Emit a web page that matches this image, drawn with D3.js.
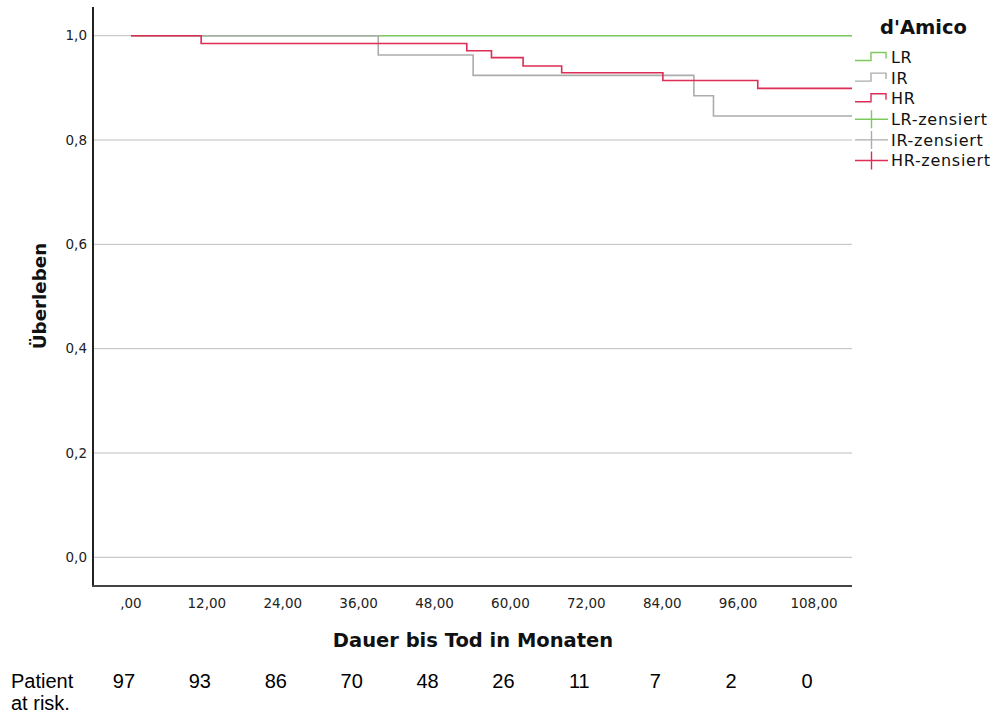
<!DOCTYPE html>
<html>
<head>
<meta charset="utf-8">
<script src="https://cdn.jsdelivr.net/npm/d3@7"></script>
<style>
  body { margin: 0; background: #fff; }
</style>
</head>
<body>
<div class="chart"></div>
<script>
// Kaplan-Meier steps: [month, survival]
const lrSteps = [[0, 1.0], [114, 1.0]];
const irSteps = [[0, 1.0], [39.1, 0.963], [54.1, 0.924], [89.0, 0.885], [92.1, 0.846], [114, 0.846]];
const hrSteps = [[0, 1.0], [11.1, 0.985], [53.1, 0.971], [57.0, 0.958], [62.0, 0.942], [68.1, 0.929], [84.1, 0.914], [99.1, 0.899], [114, 0.899]];

const xTicks = [0, 12, 24, 36, 48, 60, 72, 84, 96, 108];
const yTicks = [0, 0.2, 0.4, 0.6, 0.8, 1.0];
const atRisk = [97, 93, 86, 70, 48, 26, 11, 7, 2, 0];

const groups = [
  {name: "LR", steps: lrSteps, color: "#7dc95e"},
  {name: "IR", steps: irSteps, color: "#acacac"},
  {name: "HR", steps: hrSteps, color: "#dd2c55"}
];

const width = 998, height = 716;
const plot = {left: 93, right: 852, top: 7, bottom: 586};

const svg = d3.select(".chart")
  .append("svg")
  .attr("width", width)
  .attr("height", height);

const x = d3.scaleLinear()
  .domain([-6, 114])
  .range([plot.left, plot.right]);

const y = d3.scaleLinear()
  .domain([-0.055, 1.055])
  .range([plot.bottom, plot.top]);

const comma = d => d3.format(".1f")(d).replace(".", ",");
const comma2 = d => d3.format(".2f")(d).replace(".", ",").replace(/^0,/, ",");

// gridlines
svg.append("g")
  .selectAll("line")
  .data(yTicks)
  .enter()
  .append("line")
  .attr("x1", plot.left)
  .attr("x2", plot.right)
  .attr("y1", d => y(d))
  .attr("y2", d => y(d))
  .attr("stroke", "#bdbdbd")
  .attr("stroke-width", 1);

// y tick labels
svg.append("g")
  .selectAll("text")
  .data(yTicks)
  .enter()
  .append("text")
  .attr("x", plot.left - 6)
  .attr("y", d => y(d))
  .attr("dy", "0.35em")
  .attr("text-anchor", "end")
  .style("font-family", "DejaVu Sans")
  .style("font-size", "13.5px")
  .attr("fill", "#222")
  .text(comma);

// x tick labels
svg.append("g")
  .selectAll("text")
  .data(xTicks)
  .enter()
  .append("text")
  .attr("x", d => x(d))
  .attr("y", 603.5)
  .attr("dy", "0.35em")
  .attr("text-anchor", "middle")
  .style("font-family", "DejaVu Sans")
  .style("font-size", "13.5px")
  .attr("fill", "#222")
  .text(comma2);

// survival curves
const line = d3.line()
  .x(d => x(d[0]))
  .y(d => y(d[1]))
  .curve(d3.curveStepAfter);

svg.append("g")
  .selectAll("path")
  .data(groups)
  .enter()
  .append("path")
  .attr("d", d => line(d.steps))
  .attr("fill", "none")
  .attr("stroke", d => d.color)
  .attr("stroke-width", 1.6);

// axes frame
svg.append("line")
  .attr("x1", plot.left).attr("x2", plot.left)
  .attr("y1", plot.top).attr("y2", plot.bottom + 1)
  .attr("stroke", "#222").attr("stroke-width", 2);
svg.append("line")
  .attr("x1", plot.left - 1).attr("x2", plot.right)
  .attr("y1", plot.bottom).attr("y2", plot.bottom)
  .attr("stroke", "#444").attr("stroke-width", 2);

// axis titles
svg.append("text")
  .attr("x", 473)
  .attr("y", 646.5)
  .attr("text-anchor", "middle")
  .style("font-family", "DejaVu Sans")
  .style("font-weight", "bold")
  .style("font-size", "19.5px")
  .attr("fill", "#111")
  .text("Dauer bis Tod in Monaten");

svg.append("text")
  .attr("transform", `translate(46, 296) rotate(-90)`)
  .attr("text-anchor", "middle")
  .style("font-family", "DejaVu Sans")
  .style("font-weight", "bold")
  .style("font-size", "18.3px")
  .attr("fill", "#111")
  .text("Überleben");

// legend
const legend = svg.append("g").attr("transform", "translate(855, 0)");
legend.append("text")
  .attr("x", 25)
  .attr("y", 27)
  .attr("dy", "0.35em")
  .style("font-family", "DejaVu Sans")
  .style("font-weight", "bold")
  .style("font-size", "19.5px")
  .attr("fill", "#111")
  .text("d'Amico");

const items = groups.map(g => ({label: g.name, color: g.color, censored: false}))
  .concat(groups.map(g => ({label: g.name + "-zensiert", color: g.color, censored: true})));

const item = legend.selectAll("g.item")
  .data(items)
  .enter()
  .append("g")
  .attr("class", "item")
  .attr("transform", (d, i) => `translate(0, ${57.5 + i * 20.6})`);

item.append("path")
  .attr("d", d => d.censored
    ? "M0,0 H33 M16.5,-9 V9"
    : "M0,3 H16 V-5 H31 V1")
  .attr("fill", "none")
  .attr("stroke", d => d.color)
  .attr("stroke-width", 1.4);

item.append("text")
  .attr("x", 36)
  .attr("dy", "0.35em")
  .style("font-family", "DejaVu Sans")
  .style("font-size", "16px")
  .style("letter-spacing", "0.7px")
  .attr("fill", "#111")
  .text(d => d.label);

// patients at risk
const risk = svg.append("g")
  .style("font-family", "Liberation Sans, Arial, sans-serif")
  .style("font-size", "20px")
  .attr("fill", "#000");
risk.append("text").attr("x", 11).attr("y", 688).text("Patient");
risk.append("text").attr("x", 11).attr("y", 710).text("at risk.");
risk.selectAll("text.n")
  .data(atRisk)
  .enter()
  .append("text")
  .attr("class", "n")
  .attr("x", (d, i) => x(xTicks[i]) - 7)
  .attr("y", 688)
  .attr("text-anchor", "middle")
  .text(d => d);
</script>
</body>
</html>
